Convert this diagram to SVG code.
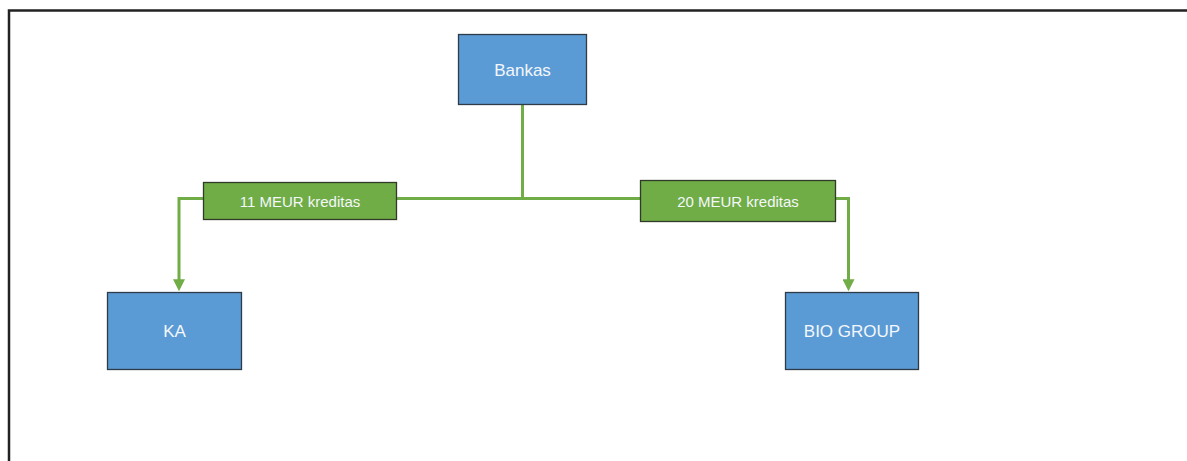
<svg xmlns="http://www.w3.org/2000/svg" width="1187" height="461" viewBox="0 0 1187 461">
  <style>
    .node { fill: #5B9BD5; stroke: #2E3B48; stroke-width: 1.3; }
    .label { fill: #70AD47; stroke: #2F3A28; stroke-width: 1.3; }
    .txt { font-family: "Liberation Sans", Arial, sans-serif; fill: #F4F7FB; text-anchor: middle; dominant-baseline: central; }
    .link { fill: none; stroke: #70AD47; stroke-width: 3; }
  </style>
  <defs>
    <marker id="arrow" markerWidth="4" markerHeight="4" refX="2.6" refY="2" orient="auto" markerUnits="strokeWidth">
      <path d="M0,0 L4,2 L0,4 Z" fill="#70AD47"/>
    </marker>
  </defs>
  <rect width="1187" height="461" fill="#FFFFFF"/>
  <!-- outer frame (left and top edges) -->
  <path d="M9,461 V10.5 H1187" fill="none" stroke="#222222" stroke-width="2.5"/>

  <g id="connectors">
    <path class="link" d="M522.5,105 V198.5"/>
    <path class="link" d="M397,198.5 H641"/>
    <path class="link" d="M203,198.5 H179 V287" marker-end="url(#arrow)"/>
    <path class="link" d="M836,198.5 H848.5 V287" marker-end="url(#arrow)"/>
  </g>

  <g id="bankas">
    <rect class="node" x="458.5" y="34.5" width="128" height="70"/>
    <text class="txt" x="522.5" y="70" font-size="17">Bankas</text>
  </g>
  <g id="label-11">
    <rect class="label" x="203.5" y="182.5" width="193" height="37"/>
    <text class="txt" x="300" y="201" font-size="15">11 MEUR kreditas</text>
  </g>
  <g id="label-20">
    <rect class="label" x="640.5" y="180.5" width="195" height="41"/>
    <text class="txt" x="738" y="201" font-size="15">20 MEUR kreditas</text>
  </g>
  <g id="ka">
    <rect class="node" x="107.5" y="292.5" width="134" height="77"/>
    <text class="txt" x="174.5" y="331" font-size="17">KA</text>
  </g>
  <g id="bio-group">
    <rect class="node" x="785.5" y="292.5" width="133" height="77"/>
    <text class="txt" x="852" y="331" font-size="17">BIO GROUP</text>
  </g>
</svg>
